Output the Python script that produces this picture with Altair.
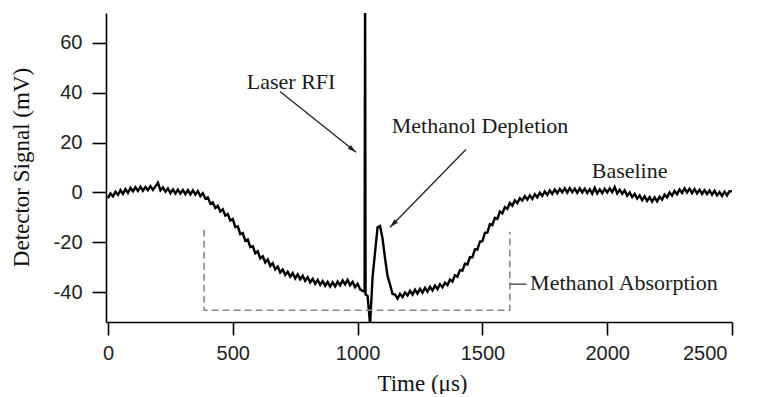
import altair as alt
import pandas as pd

# ---- data ----
# sample times (µs): 10 µs grid, with a few extra samples around the laser spike
time_us = list(range(0, 1021, 10)) + [1028, 1030, 1032] + list(range(1040, 2501, 10))
signal_mv = [
    -2.3, -0.4, -1.6, 0.3, -1.0, 0.9, -0.6, 1.3, -0.2, 1.8,
    0.4, 2.1, 0.6, 2.3, 0.7, 2.2, 0.9, 2.5, 1.0, 2.4,
    3.9, 0.8, 2.0, 0.3, 1.6, -0.3, 1.2, -0.4, 1.1, -0.5,
    1.0, -0.7, 0.9, -0.8, 0.8, -0.9, 0.5, -1.5, -0.3, -2.5,
    -2.0, -4.5, -4.0, -6.3, -5.4, -7.7, -6.8, -9.3, -8.7, -11.3,
    -10.7, -13.9, -13.6, -16.7, -16.3, -19.4, -18.9, -21.9, -21.6, -24.4,
    -23.6, -26.5, -25.6, -28.1, -26.9, -29.5, -28.4, -30.9, -29.7, -32.1,
    -30.9, -33.1, -31.8, -33.8, -32.4, -34.5, -32.9, -34.9, -33.4, -35.5,
    -34.0, -36.1, -34.7, -36.7, -35.1, -37.1, -35.6, -37.5, -35.9, -37.8,
    -36.1, -37.7, -35.8, -37.3, -35.3, -36.9, -35.1, -37.2, -35.9, -38.0,
    -36.7, -38.9, -39.5,
    -39.8, 80.0, -41.0,
    -41.5, -53.0, -34.0, -24.0, -14.0, -13.5,
    -18.5, -26.5, -33.5, -37.0, -40.8, -41.0, -42.6, -40.7, -42.0, -40.2,
    -41.3, -39.5, -41.0, -39.0, -40.6, -38.7, -40.2, -38.3, -39.8, -37.9,
    -39.3, -37.4, -38.8, -36.8, -38.1, -36.2, -37.2, -35.0, -35.8, -33.2,
    -33.8, -31.2, -31.4, -28.6, -28.9, -26.0, -26.0, -22.8, -22.9, -19.7,
    -19.6, -16.2, -16.1, -12.7, -13.1, -10.2, -10.6, -7.7, -8.4, -5.9,
    -6.6, -4.2, -5.3, -3.2, -4.3, -2.3, -3.3, -1.5, -2.9, -1.2,
    -2.6, -0.7, -2.0, -0.1, -1.4, 0.4, -1.0, 0.8, -0.6, 1.2,
    -0.3, 1.4, 0.0, 1.6, -0.1, 1.7, 0.1, 1.5, -0.2, 1.6,
    0.0, 1.5, -0.2, 1.3, -0.5, 1.9, -0.4, 1.2, -0.3, 1.5,
    0.0, 1.6, 0.1, 2.2, -0.4, 1.1, -0.6, 0.8, -1.3, 0.0,
    -1.9, -0.6, -2.5, -1.2, -3.1, -1.6, -3.4, -1.9, -3.7, -2.0,
    -3.6, -1.7, -2.9, -0.9, -2.0, 0.0, -1.3, 0.6, -0.7, 1.2,
    -0.2, 1.6, 0.0, 1.5, -0.3, 1.3, -0.4, 1.1, -0.6, 0.9,
    -0.7, 0.8, -0.9, 0.6, -1.2, 0.1, -1.4, 0.3, -1.2, 0.5,
    0.4,
]
if len(signal_mv) != len(time_us):
    raise SystemExit(f"length mismatch {len(signal_mv)} vs {len(time_us)}")

x_ticks = [0, 500, 1000, 1500, 2000, 2500]
y_ticks = [-40, -20, 0, 20, 40, 60]

# dashed "Methanol Absorption" bracket
bracket_t = [385, 385, 1610, 1610]
bracket_v = [-15.0, -47.3, -47.3, -15.8]

# annotation labels
label_text = ["Laser RFI", "Methanol Depletion", "Baseline", "Methanol Absorption"]
label_t = [556, 1137, 1938, 1691]
label_v = [41.5, 24.0, 5.6, -39.2]

# arrows (start -> tip)
arrow_t = [689, 1434]
arrow_v = [40.5, 17.2]
arrow_t2 = [994, 1130]
arrow_v2 = [16.1, -14.0]
arrow_angle = [129, 224]

# leader line for "Methanol Absorption"
leader_t = [1610]
leader_v = [-36.8]
leader_t2 = [1677]

# ---- chart ----
SERIF = "Liberation Serif"
SANS = "Liberation Sans"

xscale = alt.Scale(domain=[-8, 2500], nice=False, zero=False)
yscale = alt.Scale(domain=[-52, 72], nice=False, zero=False)

trace_df = pd.DataFrame({"t": time_us, "v": signal_mv})
bracket_df = pd.DataFrame({"t": bracket_t, "v": bracket_v, "o": list(range(len(bracket_t)))})
label_df = pd.DataFrame({"t": label_t, "v": label_v, "label": label_text})
arrow_df = pd.DataFrame({"t": arrow_t, "v": arrow_v, "t2": arrow_t2, "v2": arrow_v2, "ang": arrow_angle})
leader_df = pd.DataFrame({"t": leader_t, "v": leader_v, "t2": leader_t2})

x_axis = alt.Axis(
    values=x_ticks, title="Time (μs)", tickSize=13, labelPadding=8,
    labelExpr="datum.value + ''",
    labelOffset={"condition": {"test": "datum.value == 2500", "value": -5}, "value": 0},
    titleX=316, titleY=68, titleBaseline="alphabetic", titleAlign="center",
)
y_axis = alt.Axis(
    values=y_ticks, title="Detector Signal (mV)", tickSize=14, labelPadding=10,
    labelExpr="datum.value + ''",
    titleX=-78, titleY=154, titleAngle=270, titleBaseline="alphabetic", titleAlign="center",
)

trace = alt.Chart(trace_df).mark_line(color="black", strokeWidth=2.4, clip=True).encode(
    x=alt.X("t:Q", scale=xscale, axis=x_axis),
    y=alt.Y("v:Q", scale=yscale, axis=y_axis),
)

bracket = alt.Chart(bracket_df).mark_line(
    color="#8a8a8a", strokeWidth=1.6, strokeDash=[7, 4]
).encode(
    x=alt.X("t:Q", scale=xscale),
    y=alt.Y("v:Q", scale=yscale),
    order="o:Q",
)

leader = alt.Chart(leader_df).mark_rule(color="#333333", strokeWidth=1.2).encode(
    x=alt.X("t:Q", scale=xscale),
    x2="t2:Q",
    y=alt.Y("v:Q", scale=yscale),
)

arrow_lines = alt.Chart(arrow_df).mark_rule(color="#222222", strokeWidth=1.3).encode(
    x=alt.X("t:Q", scale=xscale),
    y=alt.Y("v:Q", scale=yscale),
    x2="t2:Q",
    y2="v2:Q",
)

arrow_heads = alt.Chart(arrow_df).mark_point(
    shape="M0,0L-0.6,2.2L0.6,2.2Z", filled=True, size=64, color="#222222", opacity=1
).encode(
    x=alt.X("t2:Q", scale=xscale),
    y=alt.Y("v2:Q", scale=yscale),
    angle=alt.Angle("ang:Q", scale=None),
)

labels = alt.Chart(label_df).mark_text(
    font=SERIF, fontSize=22, align="left", baseline="alphabetic", color="#1a1a1a"
).encode(
    x=alt.X("t:Q", scale=xscale),
    y=alt.Y("v:Q", scale=yscale),
    text="label:N",
)

chart = alt.layer(trace, bracket, leader, arrow_lines, arrow_heads, labels).properties(
    width=626,
    height=309,
    autosize=alt.AutoSizeParams(type="none"),
    padding={"left": 98, "top": 5, "right": 17, "bottom": 72},
).configure_view(stroke=None).configure_axis(
    grid=False,
    domainColor="black", domainWidth=1.6,
    tickColor="black", tickWidth=1.6,
    labelFont=SANS, labelFontSize=20, labelColor="#222222",
    titleFont=SERIF, titleFontSize=23, titleFontWeight="normal", titleColor="#111111",
)

chart.save("out.html", embed_options={"renderer": "svg", "actions": False})
